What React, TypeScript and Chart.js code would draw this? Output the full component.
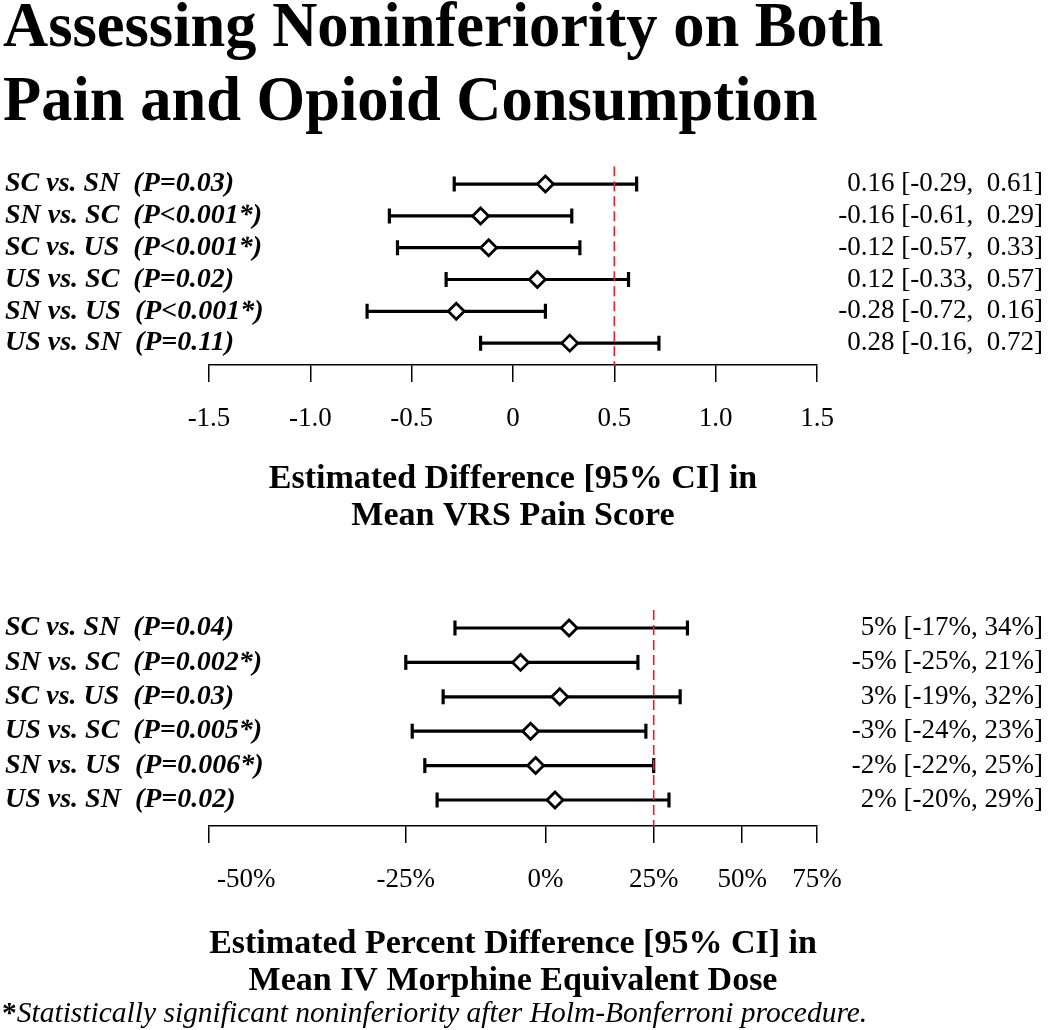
import React, { useEffect, useRef } from 'react';
import { Chart, registerables } from 'chart.js';

Chart.register(...registerables);

const FONT = '"Liberation Serif", "Times New Roman", serif';

// ---------- Panel 1: VRS pain score ----------
const PAIN_ROWS = [
  'SC vs. SN  (P=0.03)',
  'SN vs. SC  (P<0.001*)',
  'SC vs. US  (P<0.001*)',
  'US vs. SC  (P=0.02)',
  'SN vs. US  (P<0.001*)',
  'US vs. SN  (P=0.11)',
];
const PAIN_EST = [0.16, -0.16, -0.12, 0.12, -0.28, 0.28];
const PAIN_LO = [-0.29, -0.61, -0.57, -0.33, -0.72, -0.16];
const PAIN_HI = [0.61, 0.29, 0.33, 0.57, 0.16, 0.72];
const PAIN_TICKS = [-1.5, -1.0, -0.5, 0, 0.5, 1.0, 1.5];
const PAIN_TICK_LABELS = ['-1.5', '-1.0', '-0.5', '0', '0.5', '1.0', '1.5'];
const PAIN_MARGIN = 0.5;
const PAIN_TITLE = ['Estimated Difference [95% CI] in', 'Mean VRS Pain Score'];

// ---------- Panel 2: IV morphine equivalent dose (percent) ----------
const DOSE_ROWS = [
  'SC vs. SN  (P=0.04)',
  'SN vs. SC  (P=0.002*)',
  'SC vs. US  (P=0.03)',
  'US vs. SC  (P=0.005*)',
  'SN vs. US  (P=0.006*)',
  'US vs. SN  (P=0.02)',
];
const DOSE_EST = [5, -5, 3, -3, -2, 2];
const DOSE_LO = [-17, -25, -19, -24, -22, -20];
const DOSE_HI = [34, 21, 32, 23, 25, 29];
const DOSE_TICKS = [-50, -25, 0, 25, 50, 75];
const DOSE_TICK_LABELS = ['           -50%', '-25%', '0%', '25%', '50%', '75%'];
const DOSE_MARGIN = 25;
const DOSE_TITLE = ['Estimated Percent Difference [95% CI] in', 'Mean IV Morphine Equivalent Dose'];

const TITLE_LINES = ['Assessing Noninferiority on Both', 'Pain and Opioid Consumption'];
const FOOTNOTE = 'Statistically significant noninferiority after Holm-Bonferroni procedure.';

const f2 = (v: number) => v.toFixed(2);
const PAIN_RIGHT = PAIN_EST.map(
  (e, i) => `${f2(e)} [${f2(PAIN_LO[i])}, ${PAIN_HI[i] >= 0 ? ' ' : ''}${f2(PAIN_HI[i])}]`
);
const DOSE_RIGHT = DOSE_EST.map((e, i) => `${e}% [${DOSE_LO[i]}%, ${DOSE_HI[i]}%]`);

// percent difference -> ratio for the log scale
const toRatio = (p: number) => 1 + p / 100;

type Panel = {
  rows: string[];
  est: number[];
  lo: number[];
  hi: number[];
  right: string[];
  margin: number;
  xType: 'linear' | 'logarithmic';
  tickValues: number[];
  tickLabels: string[];
  title: string[];
  map: (v: number) => number;
  yMin: number;
  yMax: number;
  padTop: number;
  xAxisHeight: number;
  titlePadBottom: number;
};

const LEFT_W = 204;
const LEFT_PAD = 5;

function buildConfig(p: Panel): any {
  const xs = p.tickValues.map(p.map);
  const datasets: any[] = [];
  datasets.push({
    type: 'scatter',
    data: p.est.map((e, i) => ({ x: p.map(e), y: i + 1 })),
    pointStyle: 'rectRot',
    pointRadius: 8,
    pointBorderWidth: 2.8,
    pointBackgroundColor: '#ffffff',
    pointBorderColor: '#000000',
    order: 0,
  });
  datasets.push({
    type: 'scatter',
    showLine: true,
    data: [
      { x: p.map(p.margin), y: p.yMin },
      { x: p.map(p.margin), y: p.yMax },
    ],
    borderColor: '#ee1c25',
    borderWidth: 1.6,
    borderDash: [10, 5],
    pointRadius: 0,
    order: 1,
  });
  p.rows.forEach((_, i) => {
    datasets.push({
      type: 'scatter',
      showLine: true,
      data: [
        { x: p.map(p.lo[i]), y: i + 1 },
        { x: p.map(p.hi[i]), y: i + 1 },
      ],
      borderColor: '#000000',
      borderWidth: 3.2,
      pointStyle: 'line',
      pointRotation: 90,
      pointRadius: 7.5,
      pointBorderWidth: 3.2,
      pointBorderColor: '#000000',
      order: 2,
    });
  });

  const yCommon = {
    type: 'linear',
    reverse: true,
    min: p.yMin,
    max: p.yMax,
    grid: { display: false },
    border: { display: false },
    afterBuildTicks: (s: any) => {
      s.ticks = p.rows.map((_, i) => ({ value: i + 1 }));
    },
  };

  return {
    type: 'scatter',
    data: { datasets },
    options: {
      responsive: false,
      animation: false,
      events: [],
      layout: { padding: { left: LEFT_PAD, right: 7, top: p.padTop, bottom: 0 } },
      plugins: { legend: { display: false }, tooltip: { enabled: false } },
      scales: {
        x: {
          type: p.xType,
          min: xs[0],
          max: xs[xs.length - 1],
          afterBuildTicks: (s: any) => {
            s.ticks = xs.map((v) => ({ value: v }));
          },
          afterFit: (s: any) => {
            s.height = p.xAxisHeight;
          },
          grid: {
            display: true,
            drawOnChartArea: false,
            drawTicks: true,
            tickLength: 17,
            color: '#000000',
            lineWidth: 1.5,
          },
          border: { display: true, color: '#000000', width: 1.5 },
          ticks: {
            autoSkip: false,
            maxRotation: 0,
            minRotation: 0,
            padding: 21,
            color: '#000000',
            font: { family: FONT, size: 27 },
            callback: (_v: any, i: number) => p.tickLabels[i],
          },
          title: {
            display: true,
            text: p.title,
            color: '#000000',
            font: { family: FONT, size: 34, weight: 'bold', lineHeight: 1.09 },
            padding: { top: 0, bottom: p.titlePadBottom },
          },
        },
        y: {
          ...yCommon,
          position: 'left',
          afterFit: (s: any) => {
            s.width = LEFT_W;
          },
          ticks: {
            autoSkip: false,
            mirror: true,
            crossAlign: 'near',
            padding: -LEFT_W,
            color: '#000000',
            font: { family: FONT, size: 28, style: 'italic', weight: 'bold' },
            callback: (_v: any, i: number) => p.rows[i],
          },
        },
        y2: {
          ...yCommon,
          position: 'right',
          afterFit: (s: any) => {
            s.width = 226;
          },
          ticks: {
            autoSkip: false,
            crossAlign: 'far',
            padding: 0,
            color: '#000000',
            font: { family: FONT, size: 27 },
            callback: (_v: any, i: number) => p.right[i],
          },
        },
      },
    },
  };
}

const PAIN_PANEL: Panel = {
  rows: PAIN_ROWS,
  est: PAIN_EST,
  lo: PAIN_LO,
  hi: PAIN_HI,
  right: PAIN_RIGHT,
  margin: PAIN_MARGIN,
  xType: 'linear',
  tickValues: PAIN_TICKS,
  tickLabels: PAIN_TICK_LABELS,
  title: PAIN_TITLE,
  map: (v) => v,
  yMin: 0.4375,
  yMax: 6.6875,
  padTop: 15,
  xAxisHeight: 185,
  titlePadBottom: 15,
};

const DOSE_PANEL: Panel = {
  rows: DOSE_ROWS,
  est: DOSE_EST,
  lo: DOSE_LO,
  hi: DOSE_HI,
  right: DOSE_RIGHT,
  margin: DOSE_MARGIN,
  xType: 'logarithmic',
  tickValues: DOSE_TICKS,
  tickLabels: DOSE_TICK_LABELS,
  title: DOSE_TITLE,
  map: toRatio,
  yMin: 0.477,
  yMax: 6.756,
  padTop: 20,
  xAxisHeight: 174,
  titlePadBottom: 0,
};

function ForestPanel({ panel, top, height }: { panel: Panel; top: number; height: number }) {
  const ref = useRef<HTMLCanvasElement | null>(null);
  useEffect(() => {
    if (!ref.current) return;
    const chart = new Chart(ref.current, buildConfig(panel));
    return () => chart.destroy();
  }, [panel]);
  return (
    <canvas
      ref={ref}
      width={1050}
      height={height}
      style={{ position: 'absolute', left: 0, top, width: 1050, height }}
    />
  );
}

export default function App() {
  return (
    <div
      style={{
        position: 'absolute',
        left: 0,
        top: 0,
        width: 1050,
        height: 1030,
        background: '#ffffff',
        overflow: 'hidden',
        fontFamily: FONT,
        color: '#000',
      }}
    >
      <div
        style={{
          position: 'absolute',
          left: 3,
          top: -12,
          fontSize: 62.5,
          fontWeight: 'bold',
          lineHeight: '74px',
          whiteSpace: 'pre',
        }}
      >
        {TITLE_LINES.map((t) => (
          <div key={t}>{t}</div>
        ))}
      </div>
      <ForestPanel panel={PAIN_PANEL} top={150} height={400} />
      <ForestPanel panel={DOSE_PANEL} top={590} height={410} />
      <div
        style={{
          position: 'absolute',
          left: 2,
          top: 998,
          fontSize: 29.5,
          lineHeight: '29px',
          fontStyle: 'italic',
          whiteSpace: 'pre',
        }}
      >
        <span style={{ fontWeight: 'bold', fontStyle: 'normal' }}>*</span>
        {FOOTNOTE}
      </div>
    </div>
  );
}
